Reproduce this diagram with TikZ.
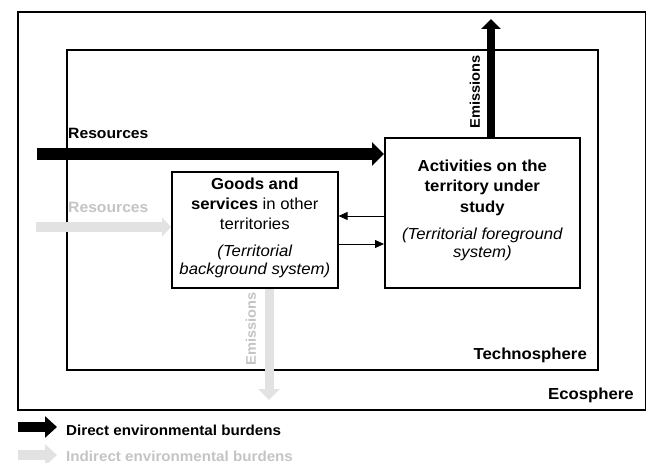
\documentclass[tikz,border=0pt]{standalone}
\usepackage{fontspec}
\setmainfont{Liberation Sans}[FakeStretch=1.05]
\usetikzlibrary{arrows.meta}
\definecolor{burdengray}{HTML}{E2E2E2}
\definecolor{labelgray}{HTML}{C4C4C4}
\begin{document}
\begin{tikzpicture}[x=1bp,y=-1bp,
  frame/.style={draw, line width=1.6bp, inner sep=0, anchor=north west},
  procbox/.style={draw, line width=1.6bp, inner sep=0, anchor=north west, fill=white},
  boxtext/.style={align=center, inner sep=0, font=\fontsize{16}{20.5}\selectfont},
  flow/.style={line width=#1},
  direct/.style={draw=black},
  indirect/.style={draw=burdengray},
  link/.style={line width=0.8bp, -{Triangle[length=9bp,width=8bp]}},
  lbl/.style={font=\bfseries\fontsize{15}{18}\selectfont, inner sep=0},
  spherelbl/.style={lbl, font=\bfseries\fontsize{16}{19}\selectfont},
]
\useasboundingbox (0,0) rectangle (646,463);

% Ecosphere and technosphere frames
\node[frame, minimum width=628bp, minimum height=398bp] (eco) at (17,11) {};
\node[frame, minimum width=531bp, minimum height=320bp] (techno) at (66,49) {};

% Processes
\node[procbox, minimum width=166bp, minimum height=116bp] (goods) at (171,171) {};
\node[procbox, minimum width=195bp, minimum height=150bp] (act) at (384,137) {};

% Free ends of the burden flows
\coordinate (resD) at (37,154);
\coordinate (resI) at (36,227);
\coordinate (emiD) at (491,19);
\coordinate (emiI) at (269,400);
\coordinate (toG) at (0,216);
\coordinate (toA) at (0,244);

% Direct burdens
\draw[direct, flow=12bp, -{Triangle[length=12bp,width=23bp]}] (resD) -- (act.west |- resD);
\draw[direct, flow=8bp, -{Triangle[length=10bp,width=19bp]}] (act.north -| emiD) -- (emiD);

% Indirect burdens
\draw[indirect, flow=10bp, -{Triangle[length=9bp,width=19bp]}] (resI) -- (goods.west |- resI);
\draw[indirect, flow=9bp, -{Triangle[length=11bp,width=21bp]}] (goods.south -| emiI) -- (emiI);

% Exchanges between the two systems
\draw[link] (act.west |- toG) -- (goods.east |- toG);
\draw[link] (goods.east |- toA) -- (act.west |- toA);

% Box texts
\node[boxtext] (goodstxt) at ([yshift=2bp]goods.center) {\textbf{Goods and}\\
  \textbf{services} in other\\ territories\\[6.5bp]
  \itshape (Territorial\\[-2.5bp] \itshape background system)};
\node[boxtext] (acttxt) at ([yshift=2.5bp]act.center) {\textbf{Activities on the}\\
  \textbf{territory under}\\ \textbf{study}\\[6.5bp]
  \itshape (Territorial foreground\\[-2.5bp] \itshape system)};

% Flow labels
\node[lbl, anchor=base west] (resDlbl) at (68,139) {Resources};
\node[lbl, anchor=base west, text=labelgray] (resIlbl) at (68,213) {Resources};
\node[lbl, rotate=90, font=\bfseries\fontsize{14}{16}\selectfont] (emiDlbl) at (475,92) {Emissions};
\node[lbl, rotate=90, text=labelgray, font=\bfseries\fontsize{14}{16}\selectfont] (emiIlbl) at (251,329) {Emissions};

% Sphere labels
\node[spherelbl, anchor=base east] (technolbl) at (587,359) {Technosphere};
\node[spherelbl, anchor=base east] (ecolbl) at (634,399) {Ecosphere};

% Legend
\coordinate (legDa) at (18,427);
\coordinate (legDb) at (57,427);
\coordinate (legIa) at (18,455);
\coordinate (legIb) at (57,455);
\draw[direct, flow=10bp, -{Triangle[length=12bp,width=21bp]}] (legDa) -- (legDb);
\draw[indirect, flow=10bp, -{Triangle[length=12bp,width=21bp]}] (legIa) -- (legIb);
\node[lbl, anchor=base west, font=\bfseries\fontsize{14.5}{17}\selectfont] (legD) at (66,435) {Direct environmental burdens};
\node[lbl, anchor=base west, text=labelgray, font=\bfseries\fontsize{14.5}{17}\selectfont] (legI) at (66,461) {Indirect environmental burdens};
\end{tikzpicture}
\end{document}
